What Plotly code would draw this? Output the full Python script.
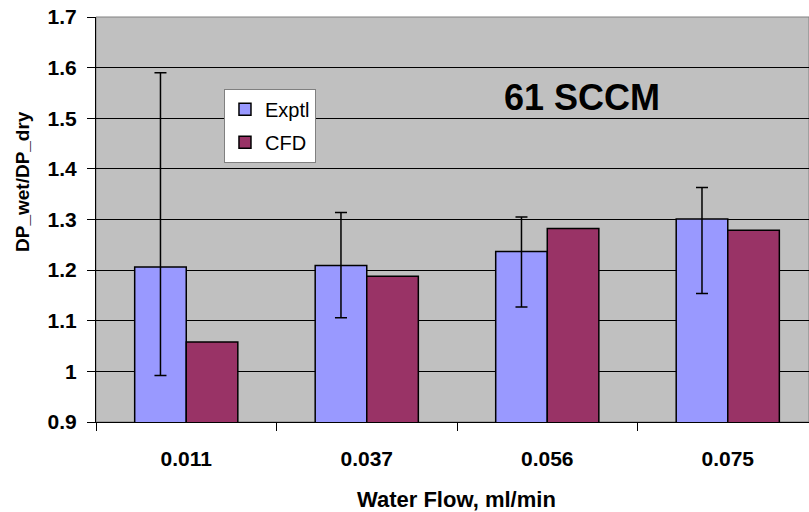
import plotly.graph_objects as go

# Water flow categories (ml/min)
flows = ["0.011", "0.037", "0.056", "0.075"]

# Wet/dry pressure-drop ratio
exptl = [1.206, 1.209, 1.237, 1.301]
exptl_high = [1.590, 1.314, 1.305, 1.363]
exptl_low = [0.992, 1.106, 1.127, 1.154]
cfd = [1.058, 1.188, 1.282, 1.279]

y_ticks = [0.9, 1.0, 1.1, 1.2, 1.3, 1.4, 1.5, 1.6, 1.7]

err_plus = [h - v for h, v in zip(exptl_high, exptl)]
err_minus = [v - l for v, l in zip(exptl, exptl_low)]

FONT = "Liberation Sans, Arial, sans-serif"

fig = go.Figure()
fig.add_trace(go.Bar(
    x=flows, y=exptl, name="Exptl", legendgroup="a",
    marker=dict(color="#9999FF", line=dict(color="black", width=1.5)),
    error_y=dict(type="data", array=err_plus, arrayminus=err_minus,
                 symmetric=False, color="black", thickness=1.5, width=6),
))
fig.add_trace(go.Bar(
    x=flows, y=cfd, name="CFD", legendgroup="b",
    marker=dict(color="#993366", line=dict(color="black", width=1.5)),
))

fig.update_layout(
    width=809, height=512,
    margin=dict(l=96, r=0, t=17, b=90),
    paper_bgcolor="white",
    plot_bgcolor="#C0C0C0",
    barmode="group",
    bargap=0.4286,
    bargroupgap=0,
    font=dict(family=FONT, color="black"),
    legend=dict(
        x=0.1795, y=0.823, xanchor="left", yanchor="top",
        bgcolor="white", bordercolor="#808080", borderwidth=1,
        font=dict(family=FONT, size=20, color="black"),
        tracegroupgap=4,
    ),
    xaxis=dict(
        type="category", range=[-0.5, 3.45],
        tickson="boundaries", ticks="outside", ticklen=8, tickcolor="black",
        showline=True, linecolor="black", linewidth=1,
        showgrid=False,
        tickfont=dict(family=FONT, size=21, color="black", weight="bold"),
        ticklabelstandoff=18,
    ),
    yaxis=dict(
        range=[0.9, 1.7], tickvals=y_ticks,
        ticktext=[f"{v:g}" for v in y_ticks],
        ticks="outside", ticklen=8, tickcolor="black",
        showline=True, linecolor="black", linewidth=1,
        showgrid=True, gridcolor="black", gridwidth=1,
        zeroline=False,
        tickfont=dict(family=FONT, size=21, color="black", weight="bold"),
        ticklabelstandoff=6,
    ),
    shapes=[dict(type="rect", xref="paper", yref="paper", x0=0, x1=1, y0=0, y1=1,
                 line=dict(color="#808080", width=1), layer="below")],
    annotations=[
        dict(text="<b>61 SCCM</b>", xref="paper", yref="paper",
             x=(582 - 96) / 713, y=(422 - 98) / 405, xanchor="center", yanchor="middle",
             showarrow=False, font=dict(family=FONT, size=36, color="black")),
        dict(text="<b>Water Flow, ml/min</b>", xref="paper", yref="paper",
             x=(456 - 96) / 713, y=(422 - 499) / 405, xanchor="center", yanchor="middle",
             showarrow=False, font=dict(family=FONT, size=22, color="black")),
        dict(text="<b>DP_wet/DP_dry</b>", xref="paper", yref="paper",
             x=(22 - 96) / 713, y=(422 - 182) / 405, xanchor="center", yanchor="middle",
             textangle=-90, showarrow=False,
             font=dict(family=FONT, size=19, color="black")),
    ],
)

fig.write_html("out.html")
